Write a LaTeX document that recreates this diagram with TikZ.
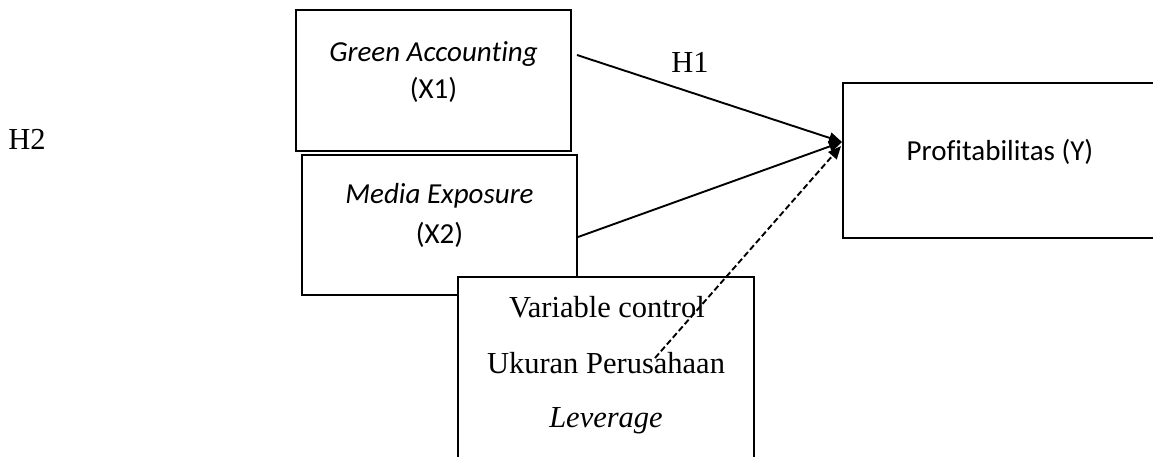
\documentclass[tikz,border=0pt]{standalone}
\usepackage{fontspec}
\setmainfont{Liberation Serif}
\newfontfamily\calib[Ligatures={NoCommon}]{Carlito}
\usetikzlibrary{arrows.meta}
\begin{document}
\begin{tikzpicture}[x=1pt,y=-1pt,
  box/.style={draw,line width=2.4pt,fill=white,inner sep=0pt},
  sanslbl/.style={font=\calib\fontsize{29}{34}\selectfont,inner sep=0pt,anchor=base},
  seriflbl/.style={font=\fontsize{30.5}{34}\selectfont,inner sep=0pt,anchor=base},
  conn/.style={line width=1.9pt,-{Triangle[length=13pt,width=11pt]}},
  dconn/.style={conn,dashed,dash pattern=on 6pt off 3pt}]
\useasboundingbox (0,0) rectangle (1153,456);
% boxes
\node[box,minimum width=275pt,minimum height=141pt] (x1) at (433.5,80.5) {};
\node[box,minimum width=275pt,minimum height=140pt] (x2) at (439.5,225) {};
\node[box,minimum width=296pt,minimum height=184pt] (ctl) at (606,369) {};
\node[box,minimum width=312pt,minimum height=155pt] (y) at (999,160.5) {};
% texts
\node[sanslbl] (x1a) at (433.5,61.5) {\itshape Green Accounting};
\node[sanslbl] (x1b) at (433.5,98) {(X1)};
\node[sanslbl] (x2a) at (439.5,203) {\itshape Media Exposure};
\node[sanslbl] (x2b) at (439.5,243) {(X2)};
\node[sanslbl] (ya) at (1000,160) {Profitabilitas (Y)};
\node[seriflbl] (c1) at (607,317) {Variable control};
\node[seriflbl] (c2) at (606,373) {Ukuran Perusahaan};
\node[seriflbl] (c3) at (606,427) {\itshape Leverage};
\node[seriflbl] (h1) at (690,72) {H1};
\node[seriflbl] (h2) at (27,149) {H2};
% connectors
\coordinate (s1) at (577,55);
\coordinate (s2) at (578,237);
\coordinate (s3) at (655,358);
\coordinate (tip) at (842,142);
\coordinate (tip3) at (841,146);
\draw[conn] (s1) -- (tip);
\draw[conn] (s2) -- (tip);
\draw[dconn] (s3) -- (tip3);
\end{tikzpicture}
\end{document}
